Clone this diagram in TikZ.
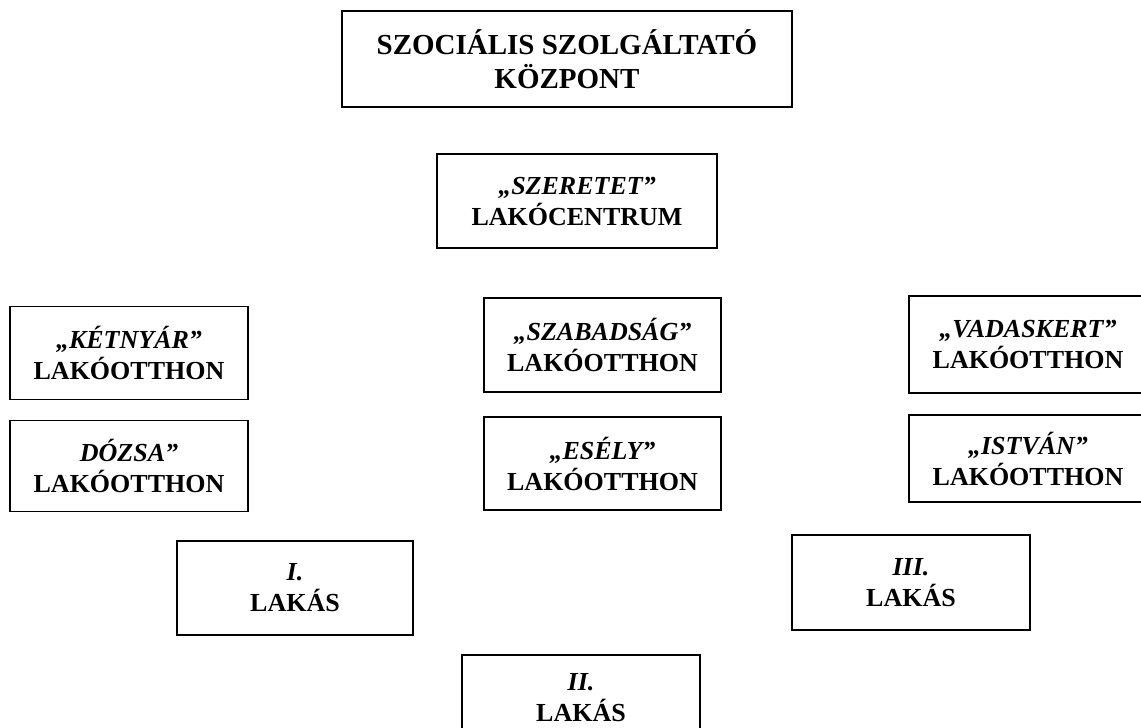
\documentclass[tikz,border=0pt]{standalone}
\usepackage{fontspec}
\setmainfont{Liberation Serif}
\usetikzlibrary{positioning}

\begin{document}
\begin{tikzpicture}[x=1pt,y=-1pt]
\tikzstyle{box}=[rectangle, draw=black, line width=1.6pt, align=center, inner sep=0pt, minimum width=238pt, minimum height=93pt, font=\fontsize{26}{31}\selectfont\bfseries]
\tikzstyle{wide}=[box, minimum width=450pt, minimum height=96pt, font=\fontsize{29}{34}\selectfont\bfseries]
  \useasboundingbox (0,0) rectangle (1141,728);
  \clip (0,0) rectangle (1141,728);
  \node[wide] (kozpont) at (567,59) {SZOCIÁLIS SZOLGÁLTATÓ\\KÖZPONT};
  \node[box, minimum width=280pt, minimum height=94pt] (szeretet) at (577,201) {\textit{„SZERETET”}\\LAKÓCENTRUM};

  \node[box] (ketnyar) at (129,353) {\textit{„KÉTNYÁR”}\\LAKÓOTTHON};
  \node[box, minimum height=91pt] (dozsa) at (129,466) {\textit{DÓZSA”}\\LAKÓOTTHON};

  \node[box, minimum width=237pt, minimum height=94pt] (szabadsag) at (602.5,345) {\textit{„SZABADSÁG”}\\LAKÓOTTHON};
  \node[box, minimum width=237pt] (esely) at (602.5,463.5) {\textit{„ESÉLY”}\\LAKÓOTTHON};

  \node[box, minimum height=97pt] (vadaskert) at (1028,344.5) {\textit{„VADASKERT”}\\LAKÓOTTHON};
  \node[box, minimum height=87pt] (istvan) at (1028,458.5) {\textit{„ISTVÁN”}\\LAKÓOTTHON};

  \node[box, minimum width=236pt, minimum height=94pt] (lakas1) at (295,588) {\textit{I.}\\LAKÁS};
  \node[box, minimum height=95pt] (lakas3) at (911,582.5) {\textit{III.}\\LAKÁS};
  \node[box, minimum height=0pt, inner ysep=19pt, text depth=30pt, anchor=north] (lakas2) at (581,654) {\textit{II.}\\LAKÁS};
\end{tikzpicture}
\end{document}
